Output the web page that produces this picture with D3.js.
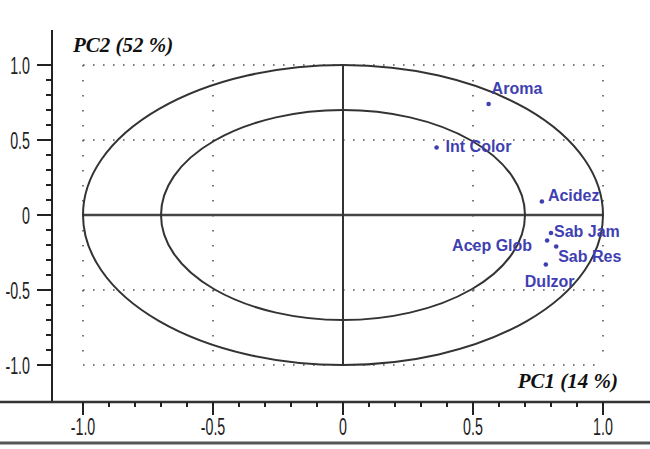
<!DOCTYPE html>
<html lang="en">
<head>
    <meta charset="UTF-8">
    <title>PCA loadings</title>
    <style>
        body { margin: 0; background: #fff; }
        svg { display: block; }
        .tick-label { font-family: "Liberation Sans", Arial, sans-serif; font-size: 23px; fill: #222; }
        .var-label { font-family: "Liberation Sans", Arial, sans-serif; font-size: 16px; font-weight: bold; fill: #3f3fb2; }
        .axis-title { font-family: "Liberation Serif", "Times New Roman", serif; font-size: 21px; font-weight: bold; font-style: italic; fill: #111; }
    </style>
</head>
<body>
    <svg width="650" height="449"></svg>

    <script src="https://d3js.org/d3.v7.min.js"></script>
    <script>
        // Loadings
        const variables = ["Aroma", "Int Color", "Acidez", "Sab Jam", "Acep Glob", "Sab Res", "Dulzor"];
        const pc1 = [0.56, 0.36, 0.765, 0.80, 0.785, 0.82, 0.78];
        const pc2 = [0.74, 0.45, 0.09, -0.12, -0.17, -0.21, -0.33];

        const circleRadii = [1.0, 0.7];
        const majorTicks = [-1, -0.5, 0, 0.5, 1];
        const tickLabels = ["-1.0", "-0.5", "0", "0.5", "1.0"];
        const minorTicks = d3.range(-10, 11).map(i => i / 10);
        const gridValues = [-1, -0.5, 0.5, 1];
        const xTitle = "PC1 (14 %)";
        const yTitle = "PC2 (52 %)";

        // label placement relative to each point: dx, dy, anchor
        const labelOffsets = [
            [3, -10, "start"], [9, 4, "start"], [6, -1, "start"], [3, 4, "start"],
            [-15, 10, "end"], [2, 15, "start"], [-21, 22, "start"]
        ];

        const svg = d3.select("svg");
        const x = d3.scaleLinear().domain([-1, 1]).range([83, 603]);
        const y = d3.scaleLinear().domain([-1, 1]).range([365, 65]);
        const squeeze = 0.62; // narrow tick font

        // dotted guide lines
        const grid = svg.append("g").attr("stroke", "#555").attr("stroke-width", 1.6);
        grid.selectAll("line.h").data(gridValues).enter().append("line")
            .attr("x1", x(-1)).attr("x2", x(1))
            .attr("y1", d => y(d)).attr("y2", d => y(d))
            .attr("stroke-dasharray", "1.6,8.4");
        grid.selectAll("line.v").data(gridValues).enter().append("line")
            .attr("y1", y(1)).attr("y2", y(-1))
            .attr("x1", d => x(d)).attr("x2", d => x(d))
            .attr("stroke-dasharray", "1.6,13.4");

        // cross through origin
        svg.append("line")
            .attr("x1", x(-1)).attr("x2", x(1)).attr("y1", y(0)).attr("y2", y(0))
            .attr("stroke", "#444").attr("stroke-width", 2.5);
        svg.append("line")
            .attr("x1", x(0)).attr("x2", x(0)).attr("y1", y(1)).attr("y2", y(-1))
            .attr("stroke", "#333").attr("stroke-width", 2);

        // correlation circles
        svg.selectAll("ellipse").data(circleRadii).enter().append("ellipse")
            .attr("cx", x(0)).attr("cy", y(0))
            .attr("rx", d => x(d) - x(0))
            .attr("ry", d => y(0) - y(d))
            .attr("fill", "none").attr("stroke", "#333").attr("stroke-width", 2);

        // left axis
        const yAxis = svg.append("g");
        yAxis.append("line")
            .attr("x1", 52).attr("x2", 52).attr("y1", 30).attr("y2", 402)
            .attr("stroke", "#222").attr("stroke-width", 2);
        yAxis.selectAll("line.minor").data(minorTicks).enter().append("line")
            .attr("x1", 46).attr("x2", 52)
            .attr("y1", d => y(d)).attr("y2", d => y(d))
            .attr("stroke", "#222").attr("stroke-width", 2);
        yAxis.selectAll("line.major").data(majorTicks).enter().append("line")
            .attr("x1", 37).attr("x2", 52)
            .attr("y1", d => y(d)).attr("y2", d => y(d))
            .attr("stroke", "#222").attr("stroke-width", 2);
        yAxis.selectAll("text").data(majorTicks).enter().append("text")
            .attr("class", "tick-label")
            .attr("text-anchor", "end")
            .attr("transform", d => `translate(30,${y(d) + 8.5}) scale(${squeeze},1)`)
            .text((d, i) => tickLabels[i]);

        // bottom axis
        const xAxis = svg.append("g");
        xAxis.append("line")
            .attr("x1", 0).attr("x2", 650).attr("y1", 402).attr("y2", 402)
            .attr("stroke", "#333").attr("stroke-width", 2.5);
        xAxis.append("line")
            .attr("x1", 0).attr("x2", 650).attr("y1", 443).attr("y2", 443)
            .attr("stroke", "#555").attr("stroke-width", 3);
        xAxis.selectAll("line.minor").data(minorTicks).enter().append("line")
            .attr("x1", d => x(d)).attr("x2", d => x(d))
            .attr("y1", 402).attr("y2", 407)
            .attr("stroke", "#222").attr("stroke-width", 2);
        xAxis.selectAll("line.major").data(majorTicks).enter().append("line")
            .attr("x1", d => x(d)).attr("x2", d => x(d))
            .attr("y1", 402).attr("y2", 415)
            .attr("stroke", "#222").attr("stroke-width", 2);
        xAxis.selectAll("text").data(majorTicks).enter().append("text")
            .attr("class", "tick-label")
            .attr("text-anchor", "middle")
            .attr("transform", d => `translate(${x(d)},435) scale(${squeeze},1)`)
            .text((d, i) => tickLabels[i]);

        // axis titles
        svg.append("text").attr("class", "axis-title")
            .attr("x", 73).attr("y", 52).text(yTitle);
        svg.append("text").attr("class", "axis-title")
            .attr("x", 618).attr("y", 388).attr("text-anchor", "end").text(xTitle);

        // variables
        const pts = svg.append("g").selectAll("g")
            .data(variables).enter().append("g")
            .attr("transform", (d, i) => `translate(${x(pc1[i])},${y(pc2[i])})`);
        pts.append("circle").attr("r", 2.3).attr("fill", "#3f3fb2");
        pts.append("text").attr("class", "var-label")
            .attr("x", (d, i) => labelOffsets[i][0])
            .attr("y", (d, i) => labelOffsets[i][1])
            .attr("text-anchor", (d, i) => labelOffsets[i][2])
            .text(d => d);
    </script>
</body>
</html>
